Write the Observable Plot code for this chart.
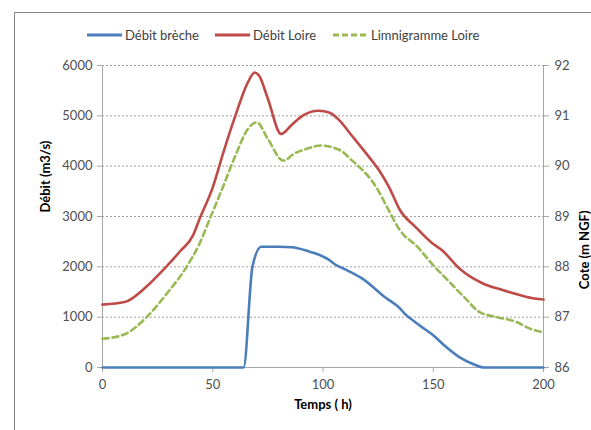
<!DOCTYPE html>
<html>
<head>
<meta charset="utf-8">
<script src="https://cdn.jsdelivr.net/npm/d3@7"></script>
<script src="https://cdn.jsdelivr.net/npm/@observablehq/plot@0.6"></script>
<style>
  html, body { margin: 0; padding: 0; background: #fff; }
  #wrap { position: relative; width: 591px; height: 430px; overflow: hidden; font-family: Lato, "Open Sans", sans-serif; color: #404040; }
  #frame { position: absolute; left: 14px; top: 12px; width: 600px; height: 440px; border-left: 1px solid #868686; border-top: 1px solid #868686; }
  #legend { position: relative; height: 50px; width: 591px; }
  .item { position: absolute; top: 26px; height: 18px; display: flex; align-items: center; font-size: 13px; }
  .item svg { margin-right: 3px; }
  #chart { position: relative; }
</style>
</head>
<body>
<div id="wrap">
  <div id="frame"></div>
  <div id="legend"></div>
  <div id="chart"></div>
</div>
<script>
// ---- Data ----
const seriesNames = ["Débit brèche", "Débit Loire", "Limnigramme Loire"];
const seriesColors = ["#4a7ebb", "#be4b48", "#98b954"];

const tBreche = [0, 64, 68, 72, 80, 86, 94, 97, 103, 105, 111, 118, 128, 135, 137, 141, 144, 150, 156, 162, 168, 173, 200];
const qBreche = [0, 0, 2000, 2400, 2400, 2390, 2300, 2260, 2130, 2060, 1930, 1760, 1400, 1170, 1070, 930, 830, 640, 400, 200, 70, 0, 0];

const tLoire = [0, 10, 20, 28, 35, 41, 44, 50, 55, 60, 66, 69, 71, 75, 81, 86, 91, 98, 103, 107, 113, 120, 126, 130, 135, 142, 149, 154, 162, 173, 180, 190, 196, 200];
const qLoire = [1250, 1300, 1610, 1960, 2300, 2620, 2950, 3580, 4300, 4970, 5670, 5860, 5800, 5340, 4640, 4830, 5010, 5100, 5060, 4930, 4610, 4230, 3880, 3580, 3120, 2790, 2490, 2330, 1960, 1660, 1560, 1430, 1370, 1350];

const tLimni = [0, 10, 20, 29, 38, 44, 49, 54, 60, 66, 70, 75, 82, 87, 93, 99, 108, 113, 117, 122, 125, 129, 135, 143, 150, 156, 164, 171, 179, 188, 194, 200];
const zLimni = [86.57, 86.66, 87.00, 87.46, 87.99, 88.46, 88.99, 89.52, 90.18, 90.74, 90.87, 90.54, 90.11, 90.25, 90.35, 90.41, 90.31, 90.12, 89.96, 89.72, 89.52, 89.19, 88.72, 88.39, 88.03, 87.76, 87.40, 87.10, 87.00, 86.90, 86.77, 86.70];

const xTicks = [0, 50, 100, 150, 200];
const yTicks = [0, 1000, 2000, 3000, 4000, 5000, 6000];
const coteTicks = [86, 87, 88, 89, 90, 91, 92];

const xTitle = "Temps ( h)";
const yTitle = "Débit (m3/s)";
const y2Title = "Cote (m NGF)";

// cote axis mapped onto the débit scale
const coteMin = coteTicks[0], coteMax = coteTicks[coteTicks.length - 1];
const yMax = yTicks[yTicks.length - 1];
const k = yMax / (coteMax - coteMin);
const toY = z => (z - coteMin) * k;

const breche = tBreche.map((t, i) => ({t, v: qBreche[i]}));
const loire = tLoire.map((t, i) => ({t, v: qLoire[i]}));
const limni = tLimni.map((t, i) => ({t, v: toY(zLimni[i])}));

// ---- Legend ----
const legendX = [87, 215, 333];
const legend = document.getElementById("legend");
seriesNames.forEach((name, i) => {
  const d = document.createElement("div");
  d.className = "item";
  d.style.left = legendX[i] + "px";
  const dash = i === 2 ? 'stroke-dasharray="6,3"' : '';
  d.innerHTML = `<svg width="35" height="6"><line x1="0" y1="3" x2="35" y2="3" stroke="${seriesColors[i]}" stroke-width="3" ${dash}/></svg><span></span>`;
  d.querySelector("span").textContent = name;
  legend.appendChild(d);
});

// ---- Chart ----
const axisColor = "#a6a6a6";
const chart = Plot.plot({
  width: 591,
  height: 380,
  marginLeft: 102,
  marginRight: 48,
  marginTop: 15,
  marginBottom: 63,
  style: {fontFamily: "Lato, 'Open Sans', sans-serif", fontSize: "13px", color: "#505050", background: "transparent", overflow: "visible"},
  x: {domain: [xTicks[0], xTicks[xTicks.length - 1]]},
  y: {domain: [yTicks[0], yMax]},
  marks: [
    Plot.ruleY(yTicks.slice(1), {stroke: "#a0a0a0", strokeWidth: 1, strokeDasharray: "2,2"}),
    Plot.ruleX([xTicks[0]], {stroke: axisColor}),
    Plot.ruleX([xTicks[xTicks.length - 1]], {stroke: axisColor}),
    Plot.ruleY([0], {stroke: axisColor}),
    Plot.axisY({anchor: "left", ticks: yTicks, tickSize: 5, tickPadding: 5, tickFormat: d => String(d), label: null, stroke: axisColor}),
    Plot.axisY({anchor: "right", ticks: coteTicks.map(toY), tickSize: 5, tickPadding: 6, tickFormat: d => String(Math.round(coteMin + d / k)), label: null, stroke: axisColor}),
    Plot.axisX({ticks: xTicks, tickSize: 5, tickPadding: 7, tickFormat: d => String(d), label: null, stroke: axisColor}),
    Plot.line(breche, {x: "t", y: "v", stroke: seriesColors[0], strokeWidth: 2.6, curve: "monotone-x"}),
    Plot.line(loire, {x: "t", y: "v", stroke: seriesColors[1], strokeWidth: 2.6, curve: "monotone-x"}),
    Plot.line(limni, {x: "t", y: "v", stroke: seriesColors[2], strokeWidth: 2.6, strokeDasharray: "6,4", curve: "monotone-x"}),
    Plot.text([yTitle], {frameAnchor: "left", dx: -57, dy: -4, rotate: -90, fontWeight: "bold", fontSize: 13, fill: "#000"}),
    Plot.text([y2Title], {frameAnchor: "right", dx: 41, dy: -6, rotate: -90, fontWeight: "bold", fontSize: 13, fill: "#000"}),
    Plot.text([xTitle], {frameAnchor: "bottom", dy: 41, fontWeight: "bold", fontSize: 13, fill: "#000"})
  ]
});
document.getElementById("chart").appendChild(chart);
</script>
</body>
</html>
